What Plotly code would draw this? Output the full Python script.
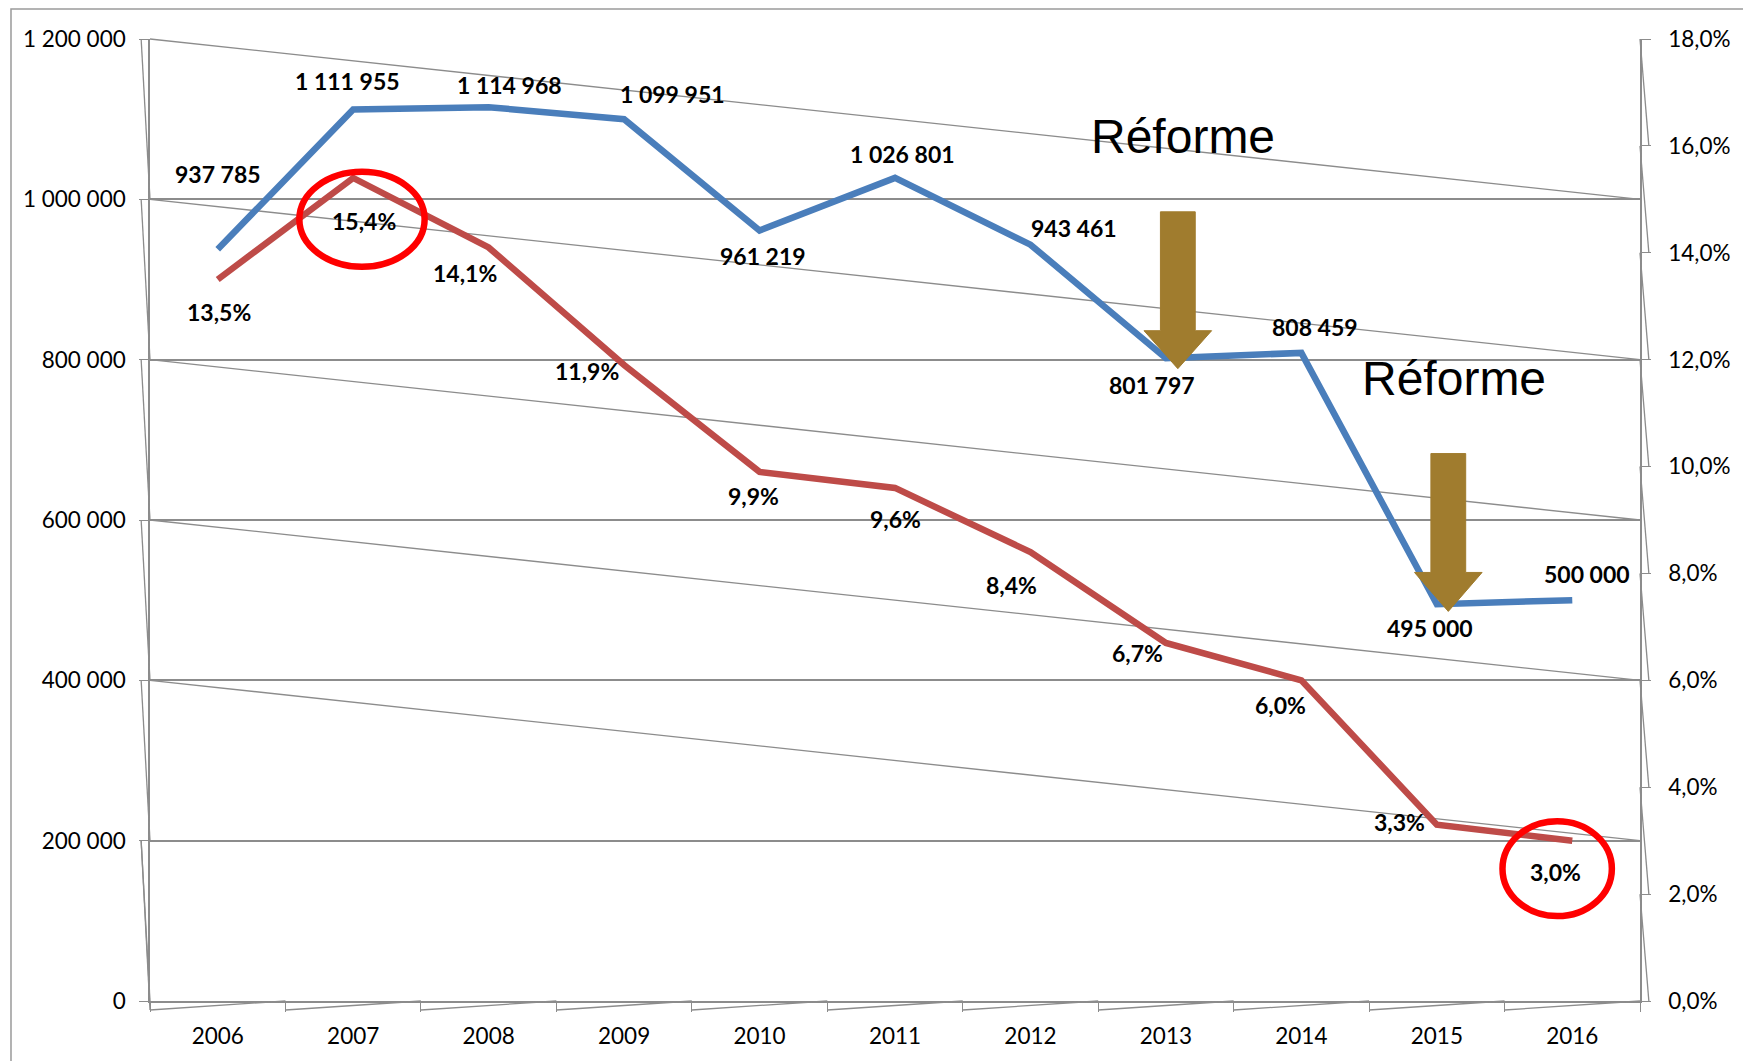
import plotly.graph_objects as go

# ---------------- data ----------------
years = ["2006", "2007", "2008", "2009", "2010", "2011", "2012", "2013", "2014", "2015", "2016"]
effectifs = [937785, 1111955, 1114968, 1099951, 961219, 1026801, 943461, 801797, 808459, 495000, 500000]
effectifs_labels = ["937 785", "1 111 955", "1 114 968", "1 099 951", "961 219", "1 026 801",
                    "943 461", "801 797", "808 459", "495 000", "500 000"]
taux = [13.5, 15.4, 14.1, 11.9, 9.9, 9.6, 8.4, 6.7, 6.0, 3.3, 3.0]
taux_labels = ["13,5%", "15,4%", "14,1%", "11,9%", "9,9%", "9,6%", "8,4%", "6,7%", "6,0%", "3,3%", "3,0%"]

left_tickvals = [0, 200000, 400000, 600000, 800000, 1000000, 1200000]
left_ticktext = ["0", "200 000", "400 000", "600 000", "800 000", "1 000 000", "1 200 000"]
right_tickvals = [0, 2, 4, 6, 8, 10, 12, 14, 16, 18]
right_ticktext = ["0,0%", "2,0%", "4,0%", "6,0%", "8,0%", "10,0%", "12,0%", "14,0%", "16,0%", "18,0%"]
annot_text = "Réforme"

YMAX = 1200000
Y2MAX = 18

# label offsets in px (dx right, dy down) relative to points
blue_off = [(0, -75), (-6, -29), (21, -22), (48, -25), (3, 26), (7, -24), (44, -17),
            (-14, 27), (14, -26), (-7, 24), (15, -26)]
red_off = [(1, 32), (11, 43), (-24, 26), (-37, 6), (-6, 24), (0, 31), (-19, 33),
           (-28, 10), (-21, 25), (-37, -3), (-17, 31)]

# ---------------- geometry (pixels) ----------------
FW, FH = 1743, 1061


def cx_(x):
    # small horizontal correction observed in the rendering
    return (x + 0.6) / 0.9897


PL, PR, PT, PB = cx_(147.8), cx_(1646.3), 39, 1002
W, H = PR - PL, PB - PT
GRID = "#8c8c8c"
FONT = "Lato"


def px(x):
    return (cx_(x) - PL) / W


def py(y):
    return (PB - y) / H


fig = go.Figure()
fig.add_trace(go.Scatter(x=years, y=effectifs, mode="lines",
                         line=dict(color="#4A7EBB", width=6.5), yaxis="y", hoverinfo="skip"))
fig.add_trace(go.Scatter(x=years, y=taux, mode="lines",
                         line=dict(color="#BE4B48", width=6.5), yaxis="y2", hoverinfo="skip"))

shapes = []
# outer chart border
shapes.append(dict(type="rect", xref="paper", yref="paper", x0=px(8), x1=px(1800),
                   y0=py(1100), y1=py(9), line=dict(color="#9a9a9a", width=1.5), layer="below"))
# diagonal pseudo-3D grid lines
for v in left_tickvals[2:]:
    shapes.append(dict(type="line", xref="paper", yref="paper", x0=0, x1=1,
                       y0=v / YMAX, y1=(v - 200000) / YMAX,
                       line=dict(color=GRID, width=1.3), layer="below"))
# left axis depth slants
TK = 9 / W
for v in left_tickvals[1:]:
    shapes.append(dict(type="line", xref="paper", yref="paper", x0=-TK, x1=0,
                       y0=v / YMAX, y1=(v - 200000) / YMAX,
                       line=dict(color=GRID, width=1.3)))
shapes.append(dict(type="line", xref="paper", yref="paper", x0=-TK, x1=0,
                   y0=200000 / YMAX, y1=-9 / H, line=dict(color=GRID, width=1.3)))
# right axis depth slants
for v in right_tickvals[:-1]:
    shapes.append(dict(type="line", xref="paper", yref="paper", x0=1, x1=1 + TK,
                       y0=(v + 2) / Y2MAX, y1=v / Y2MAX,
                       line=dict(color=GRID, width=1.3)))
# bottom axis depth slants
n = len(years)
for i in range(n):
    shapes.append(dict(type="line", xref="paper", yref="paper", x0=i / n, x1=(i + 1) / n,
                       y0=-9 / H, y1=0, line=dict(color=GRID, width=1.3)))

# red highlight ellipses
shapes.append(dict(type="circle", xref="paper", yref="paper", x0=px(298), x1=px(424),
                   y0=py(267), y1=py(172), line=dict(color="#FF0000", width=6.5)))
shapes.append(dict(type="circle", xref="paper", yref="paper", x0=px(1508), x1=px(1618),
                   y0=py(917), y1=py(822), line=dict(color="#FF0000", width=6.5)))


# brown arrows
def arrow_path(cx, top, head_y, tip_y, shaft_hw, head_hw):
    pts = [(cx - shaft_hw, top), (cx + shaft_hw, top), (cx + shaft_hw, head_y),
           (cx + head_hw, head_y), (cx, tip_y), (cx - head_hw, head_y), (cx - shaft_hw, head_y)]
    return "M " + " L ".join(f"{px(x):.5f},{py(y):.5f}" for x, y in pts) + " Z"


for ax_, top, hy, tip in [(1181.5, 212, 331, 369), (1453.5, 454, 573, 612)]:
    shapes.append(dict(type="path", xref="paper", yref="paper",
                       path=arrow_path(ax_, top, hy, tip, 17.5, 34),
                       fillcolor="#A07C2E", line=dict(color="#A07C2E", width=1)))

annotations = []
for i, (v, t, (dx, dy)) in enumerate(zip(effectifs, effectifs_labels, blue_off)):
    annotations.append(dict(x=i, y=v, xref="x", yref="y", text="<b>" + t + "</b>",
                            showarrow=False, xshift=dx, yshift=-dy,
                            xanchor="center", yanchor="middle",
                            font=dict(family=FONT, size=23, color="black")))
for i, (v, t, (dx, dy)) in enumerate(zip(taux, taux_labels, red_off)):
    annotations.append(dict(x=i, y=v, xref="x", yref="y2", text="<b>" + t + "</b>",
                            showarrow=False, xshift=dx, yshift=-dy,
                            xanchor="center", yanchor="middle",
                            font=dict(family=FONT, size=23, color="black")))
for ax_, ay_ in [(1187, 137), (1459, 379)]:
    annotations.append(dict(x=px(ax_), y=py(ay_), xref="paper", yref="paper", text=annot_text,
                            showarrow=False, xanchor="center", yanchor="middle",
                            font=dict(family="Liberation Sans", size=48, color="black")))

fig.update_layout(
    width=FW, height=FH,
    margin=dict(l=PL, r=FW - PR, t=PT, b=FH - PB, pad=0),
    paper_bgcolor="white", plot_bgcolor="white",
    showlegend=False,
    font=dict(family=FONT, size=22.5, color="black"),
    xaxis=dict(type="category", range=[-0.5, 10.5], tickson="boundaries",
               ticks="outside", ticklen=9, tickcolor=GRID, tickwidth=1.3,
               showline=True, linecolor=GRID, linewidth=1.5, showgrid=False,
               ticklabelstandoff=14, tickfont=dict(family=FONT, size=22.5)),
    yaxis=dict(range=[0, YMAX], tickvals=left_tickvals, ticktext=left_ticktext,
               ticks="outside", ticklen=9, tickcolor=GRID, tickwidth=1.3,
               showline=True, linecolor=GRID, linewidth=1.5,
               showgrid=True, gridcolor=GRID, gridwidth=1.5, zeroline=False,
               ticklabelstandoff=9, tickfont=dict(family=FONT, size=22.5)),
    yaxis2=dict(range=[0, Y2MAX], tickvals=right_tickvals, ticktext=right_ticktext,
                overlaying="y", side="right",
                ticks="outside", ticklen=9, tickcolor=GRID, tickwidth=1.3,
                showline=True, linecolor=GRID, linewidth=1.5,
                showgrid=False, zeroline=False,
                ticklabelstandoff=13, tickfont=dict(family=FONT, size=22.5)),
    shapes=shapes,
    annotations=annotations,
)

fig.write_html("out.html", config={"displayModeBar": False},
               post_script="document.body.style.margin='0';document.body.style.overflow='hidden';")
